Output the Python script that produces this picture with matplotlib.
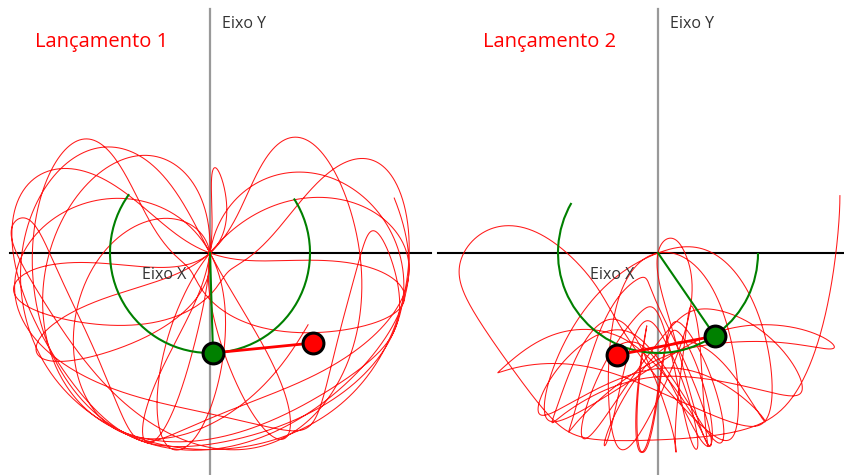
import numpy as np
import matplotlib
matplotlib.use("Agg")
import matplotlib.pyplot as plt
from matplotlib.patches import Arc

# ---- data (pixel coordinates, y downwards) ----
titles = ["Lançamento 1", "Lançamento 2"]
origins = [(210, 253), (658, 253)]
arm_length = 100
# initial angles (deg from downward vertical): [upper arm, lower arm]
start_angles = [(122.6, 90.6), (90.0, 125.0)]
mass_ratio = [0.5, 2.0]          # m2 / m1
damping = [0.0, 0.04]
search_window = [(17.0, 27.0), (18.0, 30.0)]
# green path of the upper bob (deg from downward vertical)
arc_range = [(-126.0, 123.0), (-120.0, 90.0)]
# final positions of the bobs
bob1_pos = [(213, 353), (715, 336)]
bob2_pos = [(313, 343), (617, 355)]
hline_x = [(10, 431), (438, 845)]


def simulate(t1, t2, m2, c, T, dt=0.004, g=9.81, m1=1.0):
    def f(s):
        a1, a2, w1, w2 = s
        d = a1 - a2
        den = 2*m1 + m2 - m2*np.cos(2*d)
        dw1 = (-g*(2*m1+m2)*np.sin(a1) - m2*g*np.sin(a1-2*a2)
               - 2*np.sin(d)*m2*(w2**2 + w1**2*np.cos(d))) / den
        dw2 = (2*np.sin(d)*(w1**2*(m1+m2) + g*(m1+m2)*np.cos(a1)
               + w2**2*m2*np.cos(d))) / den
        return np.array([w1, w2, dw1 - c*w1, dw2 - c*w2])
    s = np.array([np.radians(t1), np.radians(t2), 0.0, 0.0])
    n = int(T/dt)
    out = np.empty((n, 4))
    for i in range(n):
        out[i] = s
        k1 = f(s); k2 = f(s+dt/2*k1); k3 = f(s+dt/2*k2); k4 = f(s+dt*k3)
        s = s + dt/6*(k1+2*k2+2*k3+k4)
    return out, dt


fig = plt.figure(figsize=(8.45, 4.75), dpi=100)
ax = fig.add_axes([0, 0, 1, 1])
ax.set_xlim(0, 845)
ax.set_ylim(475, 0)
ax.axis('off')

font = "Open Sans"
for k in range(2):
    ox, oy = origins[k]
    # axes
    ax.plot([ox, ox], [9, 475], color='#999999', lw=1.6, zorder=1)
    ax.plot(list(hline_x[k]), [oy, oy], color='black', lw=1.5, zorder=1)

    # simulated path of the lower bob
    traj, dt = simulate(*start_angles[k], mass_ratio[k], damping[k],
                        search_window[k][1])
    x1 = ox + arm_length*np.sin(traj[:, 0])
    y1 = oy + arm_length*np.cos(traj[:, 0])
    x2 = x1 + arm_length*np.sin(traj[:, 1])
    y2 = y1 + arm_length*np.cos(traj[:, 1])
    i0 = int(search_window[k][0]/dt)
    bx1, by1 = bob1_pos[k]
    bx2, by2 = bob2_pos[k]
    dist = np.hypot(x1[i0:]-bx1, y1[i0:]-by1) + np.hypot(x2[i0:]-bx2, y2[i0:]-by2)
    iend = i0 + int(np.argmin(dist)) + 1
    ax.plot(x2[:iend], y2[:iend], color='#ff0000', lw=0.75, alpha=0.9, zorder=2)

    # green path of the upper bob
    a0, a1 = arc_range[k]
    ax.add_patch(Arc((ox, oy), 2*arm_length, 2*arm_length,
                     theta1=90-a1, theta2=90-a0, color='#008000', lw=1.5, zorder=3))

    # arms and bobs
    ax.plot([ox, bx1], [oy, by1], color='#008000', lw=1.5, zorder=4)
    ax.plot([bx1, bx2], [by1, by2], color='#ff0000', lw=2.0, zorder=4)
    ax.plot([bx1], [by1], 'o', ms=15, mfc='#008000', mec='black', mew=2.2, zorder=5)
    ax.plot([bx2], [by2], 'o', ms=15, mfc='#ff0000', mec='black', mew=2.2, zorder=5)

    # labels
    ax.text(ox - 175, 42, titles[k], color='#ff0000', fontsize=14.5,
            family=font, ha='left', va='center', zorder=6)
    ax.text(ox + 12, 24, "Eixo Y", color='#333333', fontsize=11.5,
            family=font, ha='left', va='center', zorder=6)
    ax.text(ox - 68, 275, "Eixo X", color='#333333', fontsize=11.5,
            family=font, ha='left', va='center', zorder=6)

fig.savefig("out.png", dpi=100)
